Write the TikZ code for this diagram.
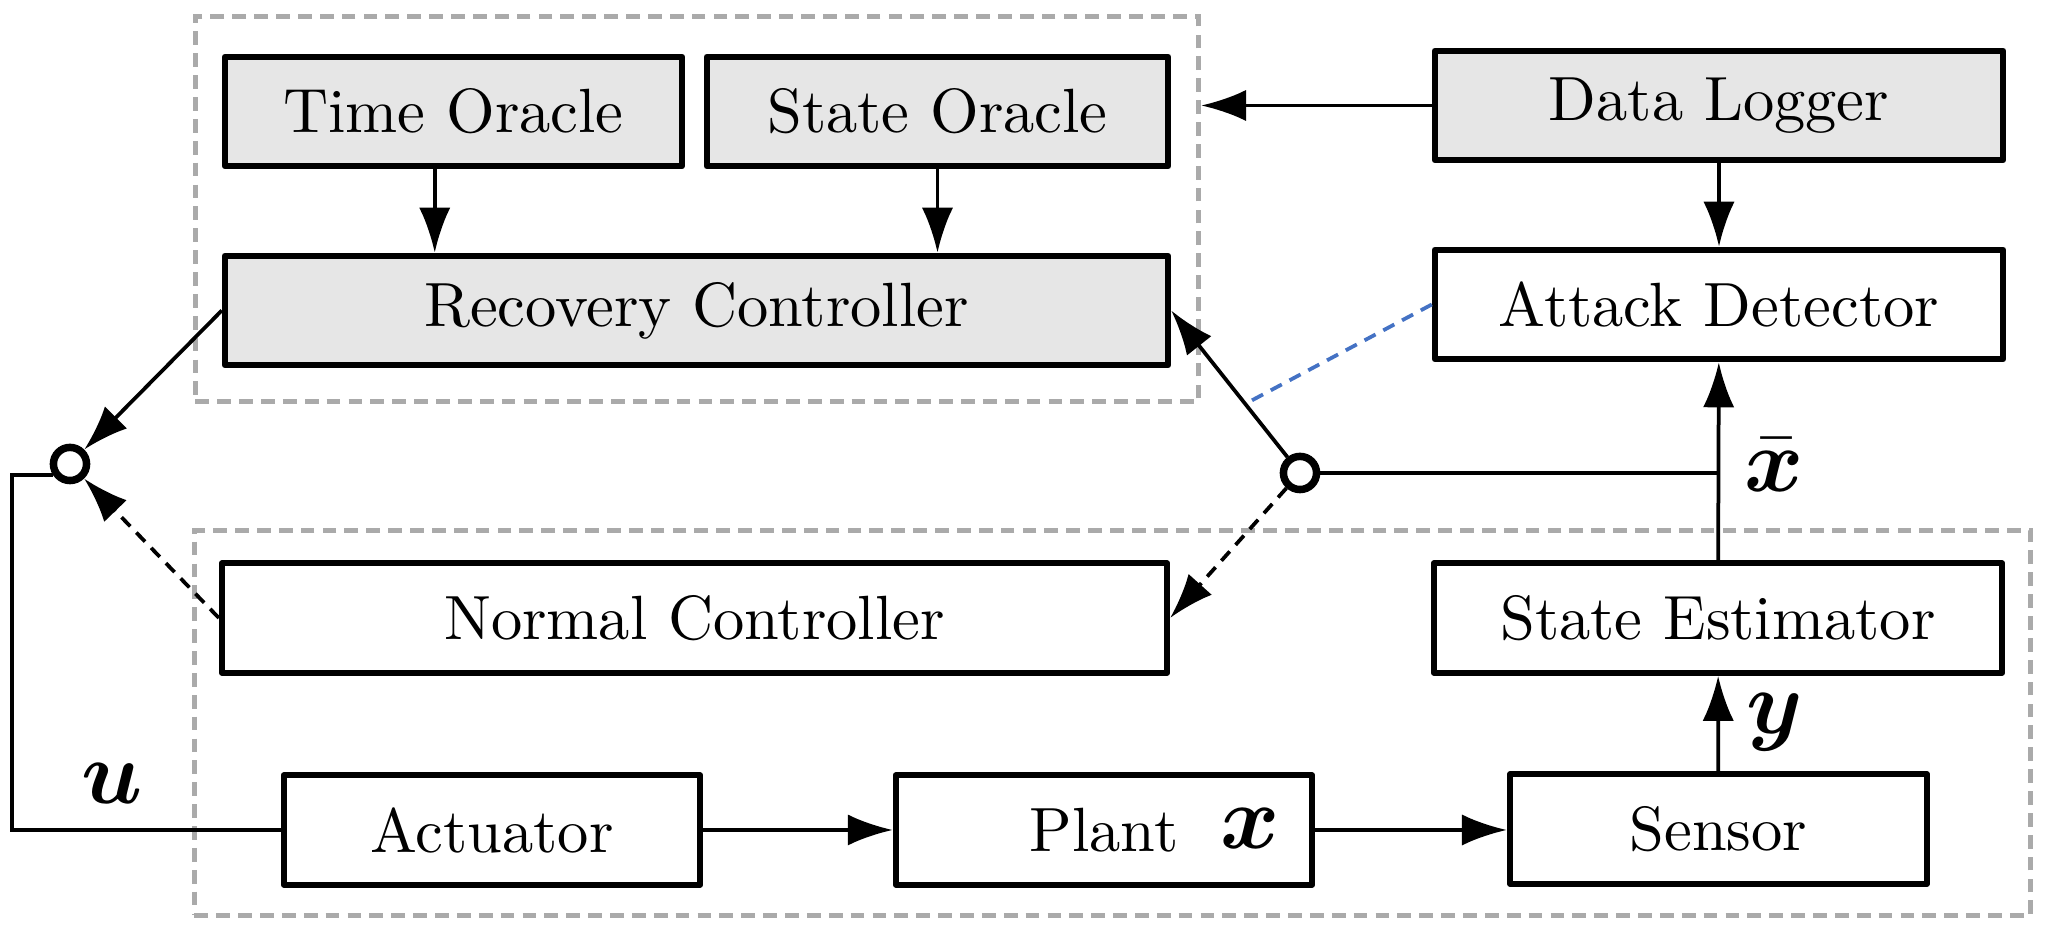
\documentclass[tikz,border=0pt]{standalone}
\usepackage{amsmath}
\usepackage{bm}
\usetikzlibrary{arrows.meta,calc}

\definecolor{grpgray}{RGB}{170,170,170}
\definecolor{blkfill}{RGB}{230,230,230}
\definecolor{ctlblue}{RGB}{68,114,196}

\begin{document}
\begin{tikzpicture}[x=0.16pt,y=0.16pt,yscale=-1,xscale=1,
    blk/.style={draw, line width=1pt, line join=round, fill=white, minimum height=17.5pt, inner sep=0pt},
    grp/.style={draw=grpgray, line width=0.8pt, dash pattern=on 2.2pt off 1.3pt, minimum height=61.6pt, inner sep=0pt},
    sw/.style={circle, draw, fill=white, line width=1.2pt, minimum size=5.3pt, inner sep=0pt},
    arr/.style={line width=0.6pt, -{Latex[length=7.2pt,width=5pt]}},
    sig/.style={font=\Large, inner sep=0pt}]
    \useasboundingbox (0,0) rectangle (2058,936);

    %Shape: Rectangle [recovery group]
    \node [grp, minimum width=160.5pt] (grpR) at (697,209) {};
    %Shape: Rectangle [normal group]
    \node [grp, minimum width=293.8pt] (grpN) at (1112.5,723) {};

    %Shape: Rectangle
    \node [blk, fill=blkfill, minimum width=73.1pt] (to) at (453.5,111.5) {Time Oracle};
    \node [blk, fill=blkfill, minimum width=73.8pt] (so) at (937.5,111.5) {State Oracle};
    \node [blk, fill=blkfill, minimum width=150.9pt] (rc) at (696.5,310.5) {Recovery Controller};
    \node [blk, fill=blkfill, minimum width=90.9pt] (dl) at (1719,105.5) {Data Logger};
    \node [blk, minimum width=90.9pt] (ad) at (1719,304.5) {Attack Detector};
    \node [blk, minimum width=151.2pt] (nc) at (694.5,618) {Normal Controller};
    \node [blk, minimum width=90.9pt] (se) at (1718,618) {State Estimator};
    \node [blk, minimum width=66.6pt] (act) at (492,830) {Actuator};
    \node [blk, minimum width=66.6pt] (plant) at (1104,830) {Plant};
    \node [blk, minimum width=66.7pt] (sen) at (1718.5,829) {Sensor};

    %Shape: Circle [switches]
    \node [sw] (lsw) at (70,464) {};
    \node [sw] (rsw) at (1300,473) {};

    % Text Node
    \node [sig] (ulbl) at (112,784) {$\bm{u}$};
    % Text Node
    \node [sig] (xlbl) at (1250,829) {$\bm{x}$};
    % Text Node
    \node [sig] (ylbl) at (1775,722) {$\bm{y}$};
    % Text Node
    \node [sig] (xbarlbl) at (1774,465) {$\bar{\bm{x}}$};

    %Straight Lines
    \draw [arr] ([xshift=-3pt]to.south) -- ([xshift=-3pt]to.south |- rc.north);
    \draw [arr] (so.south) -- (so.south |- rc.north);
    \draw [arr] (dl.west) -- (dl.west -| grpR.east);
    \draw [arr] (dl) -- (ad);
    \draw [arr] (se) -- (ad);
    \draw [line width=0.6pt] (rsw) -- (rsw -| se.north);
    \draw [arr] (sen) -- (se);
    \draw [arr] (plant.east) -- (plant.east -| sen.west);
    \draw [arr] (act) -- (plant);
    \coordinate (fbc) at (12,830);
    \draw [line width=0.6pt] (act.west) -- (fbc) |- (lsw.212);
    \draw [arr] (rc.west) -- (lsw);
    \draw [arr, dash pattern=on 2pt off 1.4pt] (nc.west) -- (lsw);
    \draw [arr] (rsw) -- (rc.east);
    \draw [arr, dash pattern=on 2pt off 1.4pt] (rsw) -- (nc.east);
    \draw [ctlblue, line width=0.6pt, dash pattern=on 2pt off 1.4pt] (ad.west) -- ($(rsw.center)!0.425!(rc.east)$);
\end{tikzpicture}
\end{document}
